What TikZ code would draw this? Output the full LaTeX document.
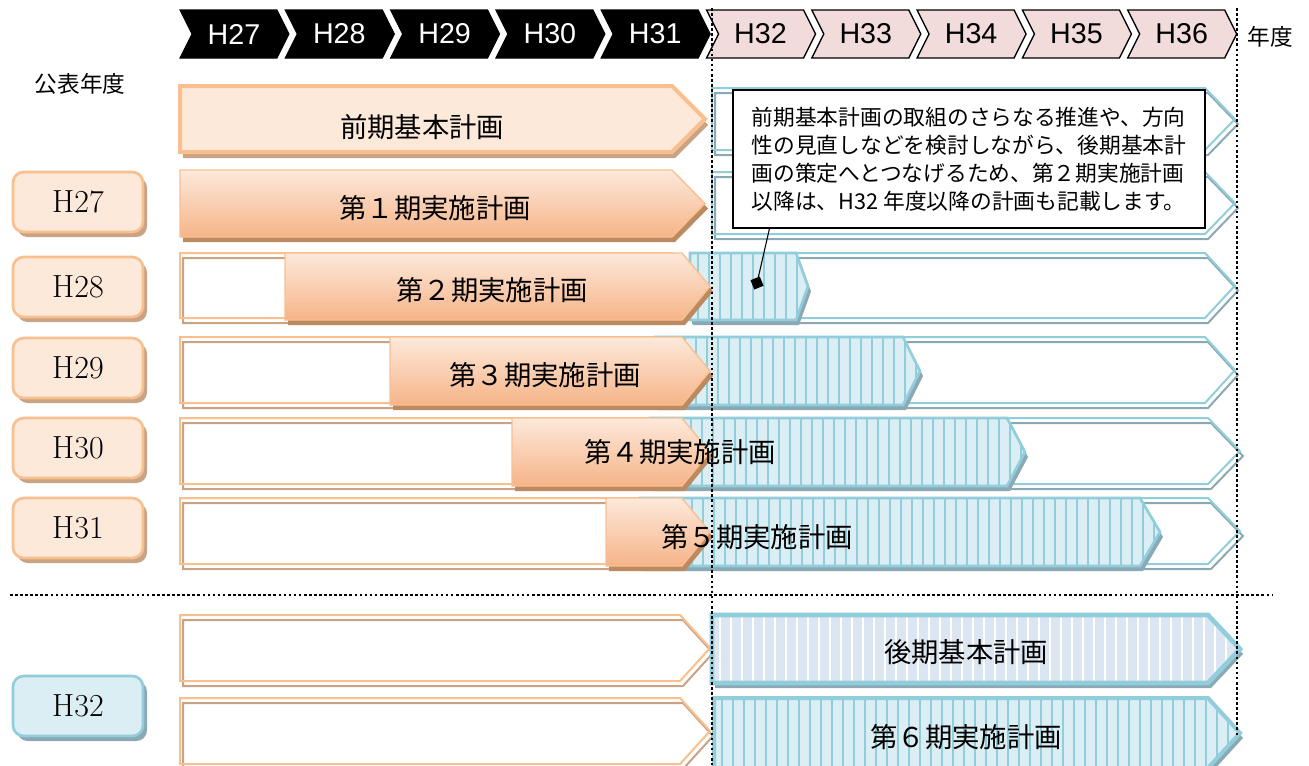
\documentclass[tikz,border=0pt]{standalone}
\usepackage{fontspec}
\newfontfamily\jp{Noto Sans CJK JP}
\newfontfamily\arial{Liberation Sans}
\usetikzlibrary{calc}
\definecolor{orB}{HTML}{F9BF8F}
\definecolor{orF}{HTML}{FDE9D9}
\definecolor{orS}{HTML}{C9A385}
\definecolor{orGa}{HTML}{FDE9DB}
\definecolor{orGb}{HTML}{F6B488}
\definecolor{orGS}{HTML}{BC8A60}
\definecolor{blB}{HTML}{92CDDC}
\definecolor{blS}{HTML}{8AA9B4}
\definecolor{blF}{HTML}{DAEEF3}
\definecolor{lavF}{HTML}{DCE6F2}
\definecolor{pinkF}{HTML}{F2DCDB}
\newcommand{\arr}[6]{\path[#6] (#1,#2) -- ({#3-#5},#2) -- (#3,{(#2+#4)/2}) -- ({#3-#5},#4) -- (#1,#4) -- cycle;}
\newcommand{\outl}[7]{%
  \arr{#1}{#2}{#3}{#4}{#5}{draw=#7, line width=1.5pt, shift={(3,5)}}%
  \arr{#1}{#2}{#3}{#4}{#5}{draw=#6, line width=1.5pt}}
\newcommand{\hatch}[7]{%
  \arr{#1}{#2}{#3}{#4}{#5}{fill=blS, shift={(3,5)}}%
  \begin{scope}
    \clip (#1,#2) -- ({#3-#5},#2) -- (#3,{(#2+#4)/2}) -- ({#3-#5},#4) -- (#1,#4) -- cycle;
    \fill[#6] (#1,#2) rectangle (#3,#4);
    \pgfmathsetmacro{\hend}{#3-#1}
    \foreach \xx in {8,19,...,\hend} \draw[#7, line width=1.4pt] ({#1+\xx},#2) -- ({#1+\xx},#4);
  \end{scope}}
\newcommand{\grad}[5]{%
  \arr{#1}{#2}{#3}{#4}{#5}{fill=orGS, shift={(3,5)}}%
  \arr{#1}{#2}{#3}{#4}{#5}{top color=orGa, bottom color=orGb, draw=orB, line width=1pt}}
\newcommand{\chevr}[2]{\path[#2] (#1,10) -- ({#1+97},10) -- ({#1+109},34) -- ({#1+97},58) -- (#1,58) -- ({#1+12},34) -- cycle;}
\tikzset{
  dotln/.style={line width=2pt, dash pattern=on 2pt off 1.8pt},
  bartext/.style={font=\jp\fontsize{20.5}{24}\selectfont, text=black},
  hdtext/.style={font=\arial\fontsize{21.5}{24}\selectfont},
  lbltext/.style={font=\fontsize{24}{28}\selectfont},
}
\newcommand{\lbox}[6]{% y0, name, text, fill, border, shadow
  \fill[#6, rounded corners=8pt] (17,{#1+5}) rectangle (147,{#1+65});
  \draw[fill=#4, draw=#5, line width=2pt, rounded corners=8pt] (13,#1) rectangle (143,{#1+60});
  \node[lbltext] (#2) at (78,{#1+30}) {#3};}
\begin{document}
\begin{tikzpicture}[x=0.75pt,y=-0.75pt]
\useasboundingbox (0,0) rectangle (1309,765);
\fill[white] (0,0) rectangle (1309,765);

% header chevrons
\foreach \i/\lab in {0/H27,1/H28,2/H29,3/H30,4/H31} {
  \pgfmathsetmacro\xa{180+105.3*\i}
  \chevr{\xa}{fill=black, draw=black, line width=0.8pt}
  \node[hdtext, text=white] (hd\lab) at ({\xa+54},34) {\lab};
}
\foreach \i/\lab in {5/H32,6/H33,7/H34,8/H35,9/H36} {
  \pgfmathsetmacro\xa{180+105.3*\i}
  \chevr{\xa}{fill=pinkF, draw=black, line width=1pt}
  \node[hdtext, text=black] (hd\lab) at ({\xa+54},34) {\lab};
}
\node[font=\jp\fontsize{17}{20}\selectfont] (nendo) at (1270,37) {年度};
\node[font=\jp\fontsize{17}{20}\selectfont] (kohyo) at (80,84) {公表年度};

% row 0
\outl{712}{88}{1235}{150}{30}{blB}{blS}
\arr{180}{86}{705}{152}{33}{fill=orS, shift={(3,6)}}
\arr{180}{86}{705}{152}{33}{fill=orF, draw=orB, line width=3pt}
\node[bartext] (b0) at (422,127) {前期基本計画};

% row 1
\outl{712}{172}{1235}{234}{30}{blB}{blS}
\grad{180}{170}{705}{237}{33}
\node[bartext] (b1) at (435,208) {第１期実施計画};

% row 2
\outl{690}{253}{1235}{318}{30}{blB}{blS}
\outl{180}{253}{705}{318}{33}{orB}{orS}
\hatch{690}{253}{808}{320}{12}{blF}{blB}
\arr{690}{253}{808}{320}{12}{draw=blB, line width=2pt}
\grad{285}{253}{710}{320}{28}
\node[bartext] (b2) at (492,290) {第２期実施計画};

% row 3
\outl{655}{337}{1235}{403}{30}{blB}{blS}
\outl{180}{337}{705}{403}{33}{orB}{orS}
\hatch{655}{337}{920}{405}{17}{blF}{blB}
\arr{655}{337}{920}{405}{17}{draw=blB, line width=2pt}
\grad{390}{337}{710}{405}{28}
\node[bartext] (b3) at (545,375) {第３期実施計画};

% row 4
\outl{650}{418}{1240}{484}{32}{blB}{blS}
\outl{180}{418}{705}{484}{33}{orB}{orS}
\hatch{650}{418}{1025}{486}{18}{blF}{blB}
\arr{650}{418}{1025}{486}{18}{draw=blB, line width=2pt}
\grad{512}{418}{710}{486}{28}
\node[bartext] (b4) at (680,452) {第４期実施計画};

% row 5
\outl{640}{498}{1240}{564}{32}{blB}{blS}
\outl{180}{498}{705}{564}{33}{orB}{orS}
\hatch{640}{498}{1160}{566}{20}{blF}{blB}
\arr{640}{498}{1160}{566}{20}{draw=blB, line width=2pt}
\grad{606}{498}{710}{566}{28}
\node[bartext] (b5) at (757,537) {第５期実施計画};

% row 6
\outl{180}{615}{710}{681}{30}{orB}{orS}
\hatch{712}{615}{1240}{683}{32}{lavF}{white}
\arr{712}{615}{1240}{683}{32}{draw=blB, line width=3.5pt}
\node[bartext] (b6) at (966,652) {後期基本計画};

% row 7
\outl{180}{698}{710}{764}{30}{orB}{orS}
\hatch{714}{698}{1240}{768}{32}{blF}{blB}
\arr{714}{698}{1240}{768}{32}{draw=blB, line width=3pt}
\node[bartext] (b7) at (966,737) {第６期実施計画};

% left labels
\lbox{172}{l27}{H27}{orF}{orB}{orS}
\lbox{257}{l28}{H28}{orF}{orB}{orS}
\lbox{338}{l29}{H29}{orF}{orB}{orS}
\lbox{418}{l30}{H30}{orF}{orB}{orS}
\lbox{498}{l31}{H31}{orF}{orB}{orS}
\lbox{676}{l32}{H32}{blF}{blB}{blS}

% callout
\node[draw=black, line width=0.8pt, fill=white, minimum width=354pt, minimum height=103.5pt,
      align=left, font=\jp\fontsize{16.3}{21}\selectfont, inner sep=0pt] (callout) at (969,159)
  {前期基本計画の取組のさらなる推進や、方向\\性の見直しなどを検討しながら、後期基本計\\画の策定へとつなげるため、第２期実施計画\\以降は、H32 年度以降の計画も記載します。};
\coordinate (ptr) at (757,283);
\draw[line width=0.8pt] ($(callout.south west)+(37,0)$) -- (ptr);
\node[fill=black, minimum size=7.5pt, inner sep=0pt, rotate=22] (ptrmark) at (ptr) {};

% dotted guides
\coordinate (vA1) at (712,8);
\coordinate (vA2) at (712,765);
\coordinate (vB1) at (1237,8);
\coordinate (vB2) at (1237,736);
\coordinate (hA1) at (10,595);
\coordinate (hA2) at (1272,595);
\draw[dotln] (vA1) -- (vA2);
\draw[dotln] (vB1) -- (vB2);
\draw[dotln] (hA1) -- (hA2);
\end{tikzpicture}
\end{document}
